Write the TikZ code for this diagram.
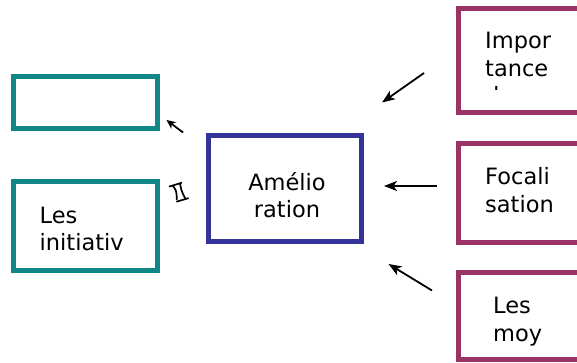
\documentclass[tikz,border=0pt]{standalone}
\usepackage{fontspec}
\setmainfont{DejaVu Sans}
\usetikzlibrary{arrows.meta}
\definecolor{tealbox}{HTML}{108686}
\definecolor{bluebox}{HTML}{333399}
\definecolor{plumbox}{HTML}{993366}
\tikzset{
  boxframe/.style={line width=5pt},
  label/.style={anchor=base west, inner sep=0pt, font=\fontsize{22.5pt}{27.5pt}\selectfont},
  ctrlabel/.style={anchor=base, inner sep=0pt, font=\fontsize{22.5pt}{27.5pt}\selectfont},
  link/.style={line width=1.8pt, -{Stealth[length=13pt, width=10pt, inset=3.5pt]}},
  smalllink/.style={line width=1.8pt, -{Stealth[length=9pt, width=8pt, inset=2.5pt]}}
}
\begin{document}
\begin{tikzpicture}[x=1pt, y=-1pt]
\useasboundingbox (0,0) rectangle (577,363);
\clip (0,0) rectangle (577,363);

% left boxes
\draw[boxframe, tealbox] (13.5,76.5) rectangle (157,128.5);
\draw[boxframe, tealbox] (13.5,181.5) rectangle (157,270.5);
\node[label] (les1) at (39.5,223) {Les};
\node[label] (init) at (39.5,250.5) {initiativ};

% central box
\draw[boxframe, bluebox] (208.5,135.5) rectangle (361,241);
\node[ctrlabel] (am1) at (287,190) {Amélio};
\node[ctrlabel] (am2) at (287,217.5) {ration};

% right boxes, running past the right edge
\draw[boxframe, plumbox] (458.5,8.5) rectangle (600,112.5);
\draw[boxframe, plumbox] (458.5,144) rectangle (600,242.5);
\draw[boxframe, plumbox] (458.5,272.5) rectangle (600,359.5);

\node[label] (imp1) at (485,48.5) {Impor};
\node[label] (imp2) at (485,76.5) {tance};
\begin{scope}
  \clip (460,0) rectangle (577,90);
  \node[label] (imp3) at (485,104) {d};
\end{scope}

\node[label] (foc1) at (485,185) {Focali};
\node[label] (foc2) at (485,212) {sation};

\node[label] (moy1) at (493,313) {Les};
\node[label] (moy2) at (493,341) {moy};

% connectors
\coordinate (a1s) at (424,73);
\coordinate (a1e) at (382,102.5);
\coordinate (a2s) at (437,186);
\coordinate (a2e) at (384,186);
\coordinate (a3s) at (432,290.5);
\coordinate (a3e) at (388.5,264);
\coordinate (a4s) at (183,132.5);
\coordinate (a4e) at (166.5,120);
\draw[link] (a1s) -- (a1e);
\draw[link] (a2s) -- (a2e);
\draw[link] (a3s) -- (a3e);
\draw[smalllink] (a4s) -- (a4e);

% small two-way mark between the lower left box and the centre
\begin{scope}[line width=1.7pt, line cap=round]
  \draw (169.5,186.5) -- (181.5,182.8);
  \draw (176.8,201.6) -- (188.3,198.2);
  \draw (172.8,185.6) .. controls (176.5,191) .. (176.8,199.5);
  \draw (180,183.5) .. controls (181.5,191) .. (185.2,198.5);
\end{scope}
\end{tikzpicture}
\end{document}
